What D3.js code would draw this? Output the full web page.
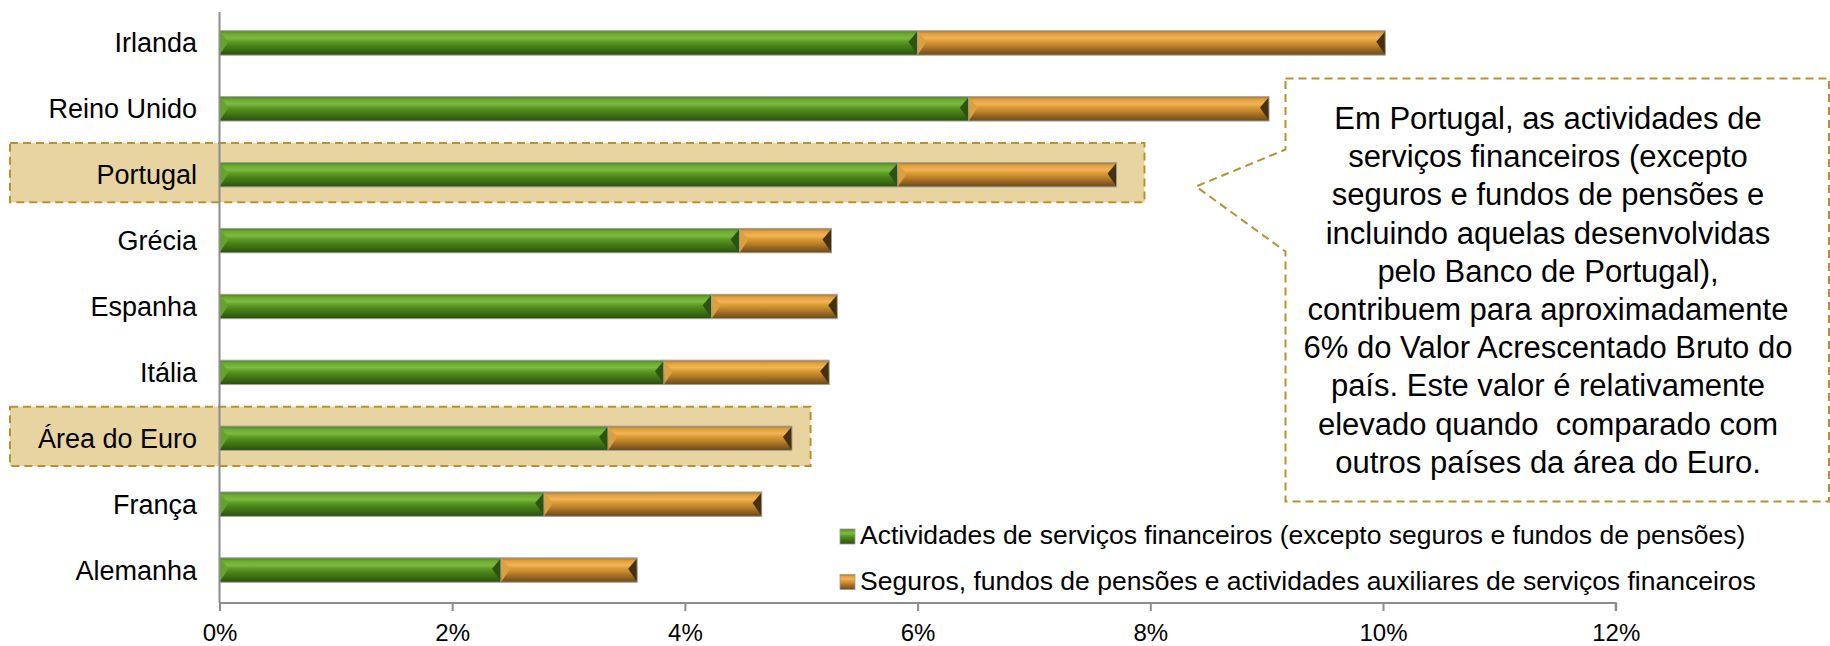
<!DOCTYPE html>
<html lang="pt">
<head>
<meta charset="UTF-8">
<title>VAB - actividades financeiras</title>
<script src="https://d3js.org/d3.v7.min.js"></script>
<style>
  body { margin: 0; background: #fff; }
  svg { display: block; font-family: "Liberation Sans", Arial, sans-serif; }
  .cat { font-size: 27px; fill: #000; }
  .tick text { font-size: 24px; fill: #000; }
  .legend text { font-size: 26.5px; fill: #000; }
  .note { font-size: 31px; fill: #000; white-space: pre; }
</style>
</head>
<body>
<svg width="1830" height="646"></svg>
<script>
// data (% do VAB)
const categories = ["Irlanda", "Reino Unido", "Portugal", "Grécia", "Espanha", "Itália", "Área do Euro", "França", "Alemanha"];
const financeiros = [6.0, 6.44, 5.83, 4.47, 4.23, 3.82, 3.34, 2.79, 2.42];
const seguros = [4.02, 2.58, 1.88, 0.79, 1.08, 1.42, 1.58, 1.87, 1.17];
const seriesNames = [
  "Actividades de serviços financeiros (excepto seguros e fundos de pensões)",
  "Seguros, fundos de pensões e actividades auxiliares de serviços financeiros"
];
const xTicks = [0, 2, 4, 6, 8, 10, 12];
const highlighted = ["Portugal", "Área do Euro"];
const highlightEnds = [7.95, 5.08];
const noteLines = [
  "Em Portugal, as actividades de",
  "serviços financeiros (excepto",
  "seguros e fundos de pensões e",
  "incluindo aquelas desenvolvidas",
  "pelo Banco de Portugal),",
  "contribuem para aproximadamente",
  "6% do Valor Acrescentado Bruto do",
  "país. Este valor é relativamente",
  "elevado quando  comparado com",
  "outros países da área do Euro."
];

const svg = d3.select("svg");

const x = d3.scaleLinear().domain([0, 12]).range([219.5, 1615.7]);
const y = d3.scaleBand().domain(categories).range([10, 603]).paddingInner(0.63).paddingOuter(0.315);
const band = d3.scaleBand().domain(categories).range([10, 603]);

// gradients for the bevelled bars
const defs = svg.append("defs");
const palettes = [
  { id: "gGreen", stops: ["#4d7f22", "#6aa830", "#7dbb3f", "#5c9a26", "#4a8419", "#3a6a12", "#2a4e0c"], left: "#64a42c", right: "#2c540e" },
  { id: "gOrange", stops: ["#a8782e", "#e0a040", "#f2b455", "#d89a35", "#c0852a", "#946422", "#6a4a18"], left: "#dca040", right: "#45300f" }
];
const offs = [0, 0.12, 0.3, 0.45, 0.6, 0.8, 1];
palettes.forEach(p => {
  const lg = defs.append("linearGradient").attr("id", p.id)
    .attr("x1", 0).attr("y1", 0).attr("x2", 0).attr("y2", 1);
  p.stops.forEach((c, i) => lg.append("stop").attr("offset", offs[i]).attr("stop-color", c));
});

// highlight boxes behind Portugal and Área do Euro
svg.append("g").selectAll("rect")
  .data(highlighted)
  .join("rect")
  .attr("x", 10)
  .attr("y", d => band(d) + band.bandwidth() * 0.05 - 2)
  .attr("width", (d, i) => x(highlightEnds[i]) - 10)
  .attr("height", band.bandwidth() * 0.9)
  .attr("fill", "#e8d4a0")
  .attr("stroke", "#b8922e")
  .attr("stroke-width", 2)
  .attr("stroke-dasharray", "8,5");

// stacked segments
const stacked = categories.map((c, i) => ({ cat: c, v: [financeiros[i], seguros[i]] }));
const segs = [];
stacked.forEach(d => {
  let x0 = 0;
  d.v.forEach((v, s) => { segs.push({ cat: d.cat, s, x0, x1: x0 + v }); x0 += v; });
});

const bars = svg.append("g").selectAll("g")
  .data(segs)
  .join("g");

bars.append("rect")
  .attr("x", d => x(d.x0))
  .attr("y", d => y(d.cat))
  .attr("width", d => x(d.x1) - x(d.x0))
  .attr("height", y.bandwidth())
  .attr("fill", d => `url(#${palettes[d.s].id})`)
  .attr("stroke", "#a0a0a0")
  .attr("stroke-width", 1);

const bev = 9;
bars.append("path")
  .attr("fill", d => palettes[d.s].left)
  .attr("d", d => {
    const a = x(d.x0), t = y(d.cat), h = y.bandwidth();
    return `M${a + 0.5},${t + 1}L${a + bev},${t + h * 0.45}L${a + 0.5},${t + h - 1}Z`;
  });
bars.append("path")
  .attr("fill", d => palettes[d.s].right)
  .attr("d", d => {
    const b = x(d.x1), t = y(d.cat), h = y.bandwidth();
    return `M${b - 0.5},${t + 1}L${b - bev},${t + h * 0.45}L${b - 0.5},${t + h - 1}Z`;
  });

// axes
svg.append("line")
  .attr("x1", x(0)).attr("x2", x(0))
  .attr("y1", 12).attr("y2", 603)
  .attr("stroke", "#8c8c8c").attr("stroke-width", 2);

const xAxis = svg.append("g")
  .attr("transform", "translate(0,603)")
  .call(d3.axisBottom(x).tickValues(xTicks).tickSize(8).tickPadding(13).tickFormat(d => d + "%"));
xAxis.select(".domain").attr("stroke", "#8c8c8c").attr("stroke-width", 2).attr("d", `M${x(0)},0H${x(12)}V8`);
xAxis.selectAll(".tick line").attr("stroke", "#8c8c8c").attr("stroke-width", 2);
xAxis.selectAll(".tick text").attr("font-family", null).attr("font-size", null);
xAxis.attr("font-family", null).attr("font-size", null);

svg.append("g").selectAll("text")
  .data(categories)
  .join("text")
  .attr("class", "cat")
  .attr("x", 197)
  .attr("y", d => y(d) + y.bandwidth() / 2)
  .attr("dy", "0.35em")
  .attr("text-anchor", "end")
  .text(d => d);

// legend
const legend = svg.append("g").attr("class", "legend");
const lg = legend.selectAll("g")
  .data(seriesNames)
  .join("g")
  .attr("transform", (d, i) => `translate(840,${544 + i * 45.5})`);
lg.append("rect")
  .attr("x", 0).attr("y", -15)
  .attr("width", 15).attr("height", 15)
  .attr("fill", (d, i) => `url(#${palettes[i].id})`)
  .attr("stroke", "#999").attr("stroke-width", 0.8);
lg.append("text")
  .attr("x", 20).attr("y", 0)
  .text(d => d);

// callout
const bx = 1285.5, by = 78.5, bx2 = 1829, by2 = 501.5;
svg.append("path")
  .attr("d", `M${bx},${by}H${bx2}V${by2}H${bx}V251.5L1196,186.5L${bx},149.5Z`)
  .attr("fill", "#fff")
  .attr("stroke", "#b8922e")
  .attr("stroke-width", 2)
  .attr("stroke-dasharray", "8,5");

svg.append("g").selectAll("text")
  .data(noteLines)
  .join("text")
  .attr("class", "note")
  .attr("x", 1548)
  .attr("y", (d, i) => 129 + i * 38.2)
  .attr("text-anchor", "middle")
  .text(d => d);
</script>
</body>
</html>
